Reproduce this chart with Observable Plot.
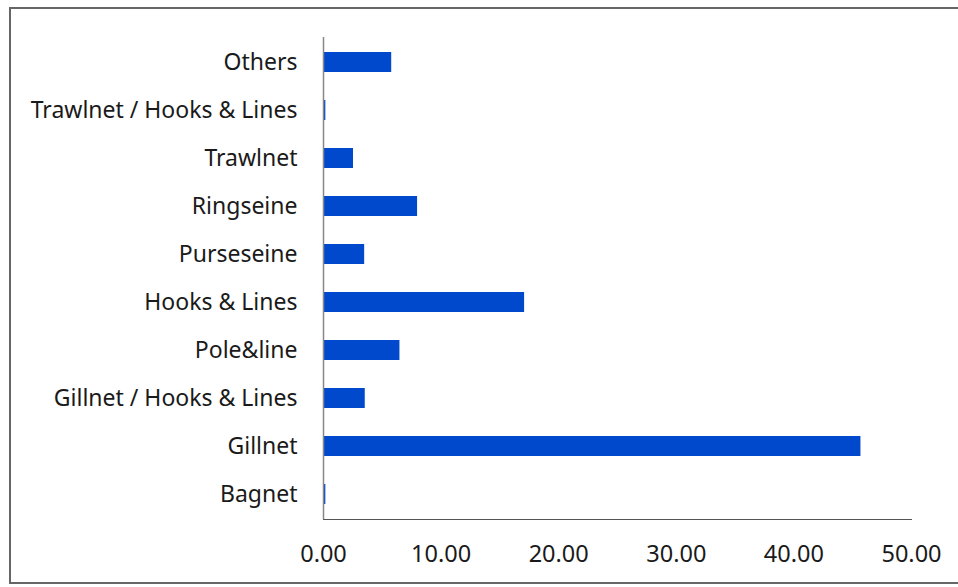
<!DOCTYPE html>
<html>
<head>
<meta charset="utf-8">
<script src="https://cdn.jsdelivr.net/npm/d3@7"></script>
<script src="https://cdn.jsdelivr.net/npm/@observablehq/plot@0.6"></script>
<style>
  html, body { margin: 0; padding: 0; background: #fff; }
  #chart { position: relative; width: 958px; height: 587px; }
  #border { position: absolute; left: 9px; top: 7px; width: 960px; height: 577px;
            border: 2px solid #666; box-sizing: border-box; pointer-events: none; }
</style>
</head>
<body>
<div id="chart"><div id="border"></div></div>
<script>
// Fishing gear types, top to bottom
const gears = [
  "Others",
  "Trawlnet / Hooks & Lines",
  "Trawlnet",
  "Ringseine",
  "Purseseine",
  "Hooks & Lines",
  "Pole&line",
  "Gillnet / Hooks & Lines",
  "Gillnet",
  "Bagnet"
];
const shares = [5.8, 0.2, 2.55, 8.0, 3.5, 17.1, 6.5, 3.55, 45.7, 0.2];
const xTicks = [0, 10, 20, 30, 40, 50];

const data = gears.map((g, i) => ({gear: g, value: shares[i]}));

const chart = Plot.plot({
  width: 958,
  height: 587,
  marginLeft: 323,
  marginRight: 47,
  marginTop: 37,
  marginBottom: 68,
  style: {fontFamily: "'Noto Sans', sans-serif", fontSize: "23px", color: "#1a1a1a", background: "transparent"},
  x: {domain: [0, 50], ticks: xTicks},
  y: {domain: gears, padding: 0, label: null},
  marks: [
    Plot.barX(data, {y: "gear", x: "value", fill: "#0049cc", insetTop: 14, insetBottom: 14}),
    Plot.ruleX([0], {stroke: "#888", strokeWidth: 1.5}),
    Plot.frame({anchor: "bottom", stroke: "#555"}),
    Plot.axisX({ticks: xTicks, tickSize: 0, tickPadding: 26, tickFormat: d3.format(".2f"), label: null, fontSize: 23.5}),
    Plot.axisY({tickSize: 0, tickPadding: 26, label: null, fontSize: 23})
  ]
});
document.getElementById("chart").prepend(chart);
</script>
</body>
</html>
